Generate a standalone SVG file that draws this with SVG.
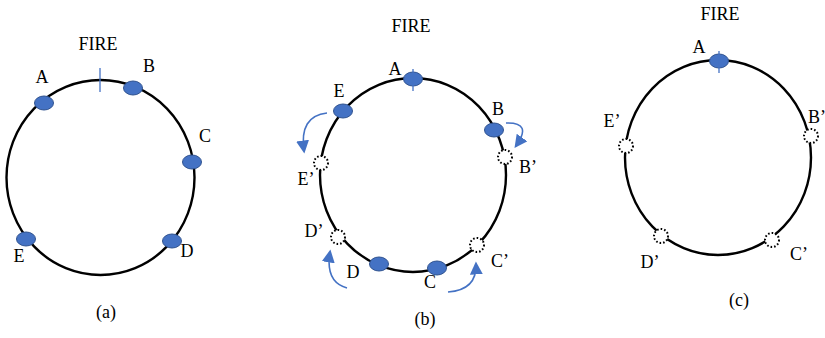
<svg xmlns="http://www.w3.org/2000/svg" width="825" height="338" viewBox="0 0 825 338">
<style>
.ring{fill:none;stroke:#000;stroke-width:2.4}
.node{fill:#4472C4;stroke:#2F528F;stroke-width:1}
.ghost{fill:#fff;stroke:#000;stroke-width:2;stroke-dasharray:1.6 2}
.tick{stroke:#4472C4;stroke-width:1.3}
.arr{fill:none;stroke:#4472C4;stroke-width:1.6}
text{font-family:"Liberation Serif","Times New Roman",serif;font-size:18px;fill:#000;text-anchor:middle}
</style>
<defs>
<marker id="ah" viewBox="0 0 10 10" refX="8" refY="5" markerWidth="13" markerHeight="13" markerUnits="userSpaceOnUse" orient="auto">
<path d="M0,0 L10,5 L0,10 z" fill="#4472C4"/>
</marker>
</defs>
<g id="rings">
<ellipse class="ring" cx="100.5" cy="177.5" rx="94" ry="97.5"/>
<ellipse class="ring" cx="413" cy="175" rx="93" ry="97"/>
<ellipse class="ring" cx="718" cy="157.5" rx="93" ry="97.5"/>
</g>
<g id="panel-a">
<text x="98" y="50">FIRE</text>
<line class="tick" x1="100" y1="68" x2="100" y2="92"/>
<g id="a-A"><ellipse class="node" cx="44" cy="103" rx="9.5" ry="7"/><text x="42" y="83">A</text></g>
<g id="a-B"><ellipse class="node" cx="133" cy="88" rx="9.5" ry="7"/><text x="149" y="72">B</text></g>
<g id="a-C"><ellipse class="node" cx="192" cy="162" rx="9.5" ry="7"/><text x="205" y="142">C</text></g>
<g id="a-D"><ellipse class="node" cx="172" cy="241" rx="9.5" ry="7"/><text x="187" y="257">D</text></g>
<g id="a-E"><ellipse class="node" cx="26" cy="239" rx="9.5" ry="7"/><text x="19" y="262">E</text></g>
<text x="106" y="318">(a)</text>
</g>
<g id="panel-b">
<text x="411" y="32">FIRE</text>
<g id="b-A"><ellipse class="node" cx="413" cy="79" rx="9.5" ry="7"/><line class="tick" x1="413" y1="69" x2="413" y2="91"/><text x="395" y="75">A</text></g>
<g id="b-E"><ellipse class="node" cx="343" cy="111" rx="9.5" ry="7"/><text x="339" y="97">E</text></g>
<g id="b-B"><ellipse class="node" cx="494" cy="130" rx="9.5" ry="7"/><text x="498" y="115">B</text></g>
<g id="b-Ep"><circle class="ghost" cx="321" cy="163" r="7"/><text x="306" y="185">E’</text></g>
<g id="b-Bp"><circle class="ghost" cx="505" cy="157" r="7"/><text x="528" y="173">B’</text></g>
<g id="b-Dp"><circle class="ghost" cx="338" cy="237" r="7"/><text x="314" y="237">D’</text></g>
<g id="b-Cp"><circle class="ghost" cx="477" cy="245" r="7"/><text x="500" y="267">C’</text></g>
<g id="b-D"><ellipse class="node" cx="379" cy="264" rx="9.5" ry="7"/><text x="353" y="278">D</text></g>
<g id="b-C"><ellipse class="node" cx="437" cy="268" rx="9.5" ry="7"/><text x="430" y="288">C</text></g>
<text x="425" y="325">(b)</text>
</g>
<g id="connectors">
<path class="arr" d="M327,113 Q299,116 304,151" marker-end="url(#ah)"/>
<path class="arr" d="M506,123 Q533,122 516,146" marker-end="url(#ah)"/>
<path class="arr" d="M347,288 Q325,282 330,252" marker-end="url(#ah)"/>
<path class="arr" d="M448,292 Q477,290 476,264" marker-end="url(#ah)"/>
</g>
<g id="panel-c">
<text x="720" y="20">FIRE</text>
<g id="c-A"><ellipse class="node" cx="719" cy="61" rx="9.5" ry="7"/><line class="tick" x1="719" y1="51" x2="719" y2="73"/><text x="699" y="53">A</text></g>
<g id="c-Ep"><circle class="ghost" cx="626" cy="146" r="7"/><text x="612" y="127">E’</text></g>
<g id="c-Bp"><circle class="ghost" cx="811" cy="136" r="7"/><text x="808" y="123" style="text-anchor:start">B’</text></g>
<g id="c-Dp"><circle class="ghost" cx="661" cy="236" r="7"/><text x="650" y="268">D’</text></g>
<g id="c-Cp"><circle class="ghost" cx="772" cy="240" r="7"/><text x="799" y="260">C’</text></g>
<text x="739" y="306">(c)</text>
</g>
</svg>
